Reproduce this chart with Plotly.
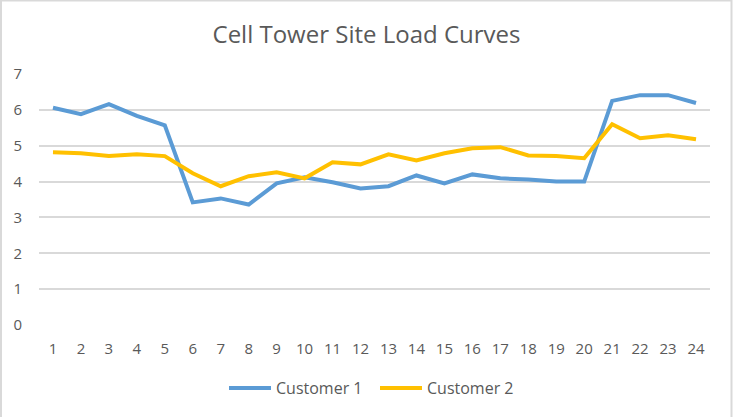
import plotly.graph_objects as go

hours = [str(i) for i in range(1, 25)]
customer1 = [6.06, 5.88, 6.16, 5.83, 5.57, 3.42, 3.53, 3.36, 3.95, 4.12, 3.98, 3.81,
             3.87, 4.17, 3.95, 4.20, 4.09, 4.06, 4.00, 4.00, 6.25, 6.41, 6.41, 6.19]
customer2 = [4.82, 4.79, 4.71, 4.76, 4.71, 4.23, 3.87, 4.15, 4.26, 4.09, 4.54, 4.48,
             4.76, 4.59, 4.79, 4.93, 4.96, 4.73, 4.71, 4.65, 5.60, 5.21, 5.29, 5.18]
y_ticks = [0, 1, 2, 3, 4, 5, 6, 7]

W, H = 733, 417
ml, mr, mt, mb = 39, 23, 74, 92
pw = W - ml - mr
ph = H - mt - mb

fig = go.Figure()
fig.add_trace(go.Scatter(x=hours, y=customer1, mode="lines", name="Customer 1",
                         line=dict(color="#5B9BD5", width=4)))
fig.add_trace(go.Scatter(x=hours, y=customer2, mode="lines", name="Customer 2",
                         line=dict(color="#FFC000", width=4)))

fig.update_layout(
    width=W, height=H,
    margin=dict(l=ml, r=mr, t=mt, b=mb, autoexpand=False),
    paper_bgcolor="white", plot_bgcolor="white",
    font=dict(family="Open Sans, Liberation Sans, sans-serif", color="#595959", size=15),
    title=dict(text="Cell Tower Site Load Curves", x=0.5, xanchor="center",
               y=1 - 35 / H, yanchor="middle",
               font=dict(size=24, color="#595959")),
    xaxis=dict(type="category", range=[-0.5, 23.5], showgrid=False, zeroline=False,
               showline=False, ticks="outside", ticklen=10, tickcolor="rgba(0,0,0,0)",
               tickfont=dict(size=15, color="#595959"), automargin=False),
    yaxis=dict(range=[0, 7], tickvals=y_ticks, showgrid=True, gridcolor="#D9D9D9",
               gridwidth=1.5, zeroline=False, showline=False, ticks="outside",
               ticklen=13, tickcolor="rgba(0,0,0,0)",
               tickfont=dict(size=15, color="#595959"), automargin=False),
    legend=dict(orientation="h", x=(375 - ml) / pw, xanchor="center",
                y=-(388 - (H - mb)) / ph, yanchor="middle",
                font=dict(size=16, color="#595959"),
                itemwidth=42, entrywidth=94, entrywidthmode="pixels",
                traceorder="normal"),
    showlegend=True,
)

fig.add_shape(type="rect", xref="paper", yref="paper",
              x0=(1 - ml) / pw, x1=(W - 1.5 - ml) / pw,
              y0=-(H + 5 - (H - mb)) / ph, y1=1 + (mt - 0.5) / ph,
              line=dict(color="#D9D9D9", width=2), fillcolor="rgba(0,0,0,0)", layer="below")

fig.write_html("out.html", config={"displayModeBar": False},
               post_script="document.body.style.margin='0';")
